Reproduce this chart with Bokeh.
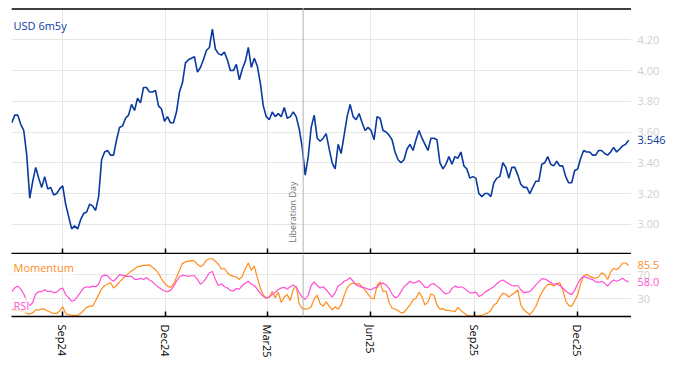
import pandas as pd
from bokeh.plotting import figure
from bokeh.layouts import column, row
from bokeh.models import (Range1d, MonthsTicker, DatetimeTickFormatter,
                          FixedTicker, Span, Label, ColumnDataSource)
from bokeh.core.properties import value
from bokeh.embed import file_html
from bokeh.resources import INLINE

# ---------------- data ----------------
series_name = "USD 6m5y"
data_start = "2024-07-17 18:00"
data_end = "2026-01-15 10:00"
view_start = "2024-07-17 12:00"
view_end = "2026-01-18 00:00"
liberation_day = "2025-04-02"
tick_months = [2, 5, 8, 11]          # Mar, Jun, Sep, Dec (0-based month index)
price_ticks = [3.0, 3.2, 3.4, 3.6, 3.8, 4.0, 4.2]
osc_ticks = [30, 70]

price = [
    3.66, 3.71, 3.71, 3.65, 3.61, 3.45, 3.17, 3.28, 3.37, 3.30,
    3.24, 3.31, 3.23, 3.24, 3.19, 3.20, 3.23, 3.25, 3.13, 3.05,
    2.97, 2.99, 2.97, 3.03, 3.07, 3.08, 3.13, 3.12, 3.09, 3.18,
    3.42, 3.47, 3.48, 3.45, 3.45, 3.55, 3.63, 3.64, 3.69, 3.71,
    3.78, 3.74, 3.82, 3.79, 3.89, 3.89, 3.86, 3.86, 3.87, 3.77,
    3.75, 3.67, 3.70, 3.66, 3.66, 3.73, 3.86, 3.92, 4.05, 4.07,
    4.08, 4.09, 3.99, 4.02, 4.07, 4.13, 4.15, 4.27, 4.14, 4.11,
    4.10, 4.12, 4.07, 4.00, 4.00, 4.04, 3.94, 4.01, 4.06, 4.15,
    4.02, 4.08, 4.03, 3.92, 3.77, 3.70, 3.68, 3.73, 3.70, 3.72,
    3.70, 3.76, 3.69, 3.70, 3.73, 3.70, 3.62, 3.50, 3.32, 3.44,
    3.63, 3.71, 3.56, 3.54, 3.56, 3.59, 3.49, 3.40, 3.36, 3.52,
    3.46, 3.58, 3.70, 3.78, 3.70, 3.68, 3.72, 3.66, 3.61, 3.63,
    3.61, 3.55, 3.70, 3.69, 3.61, 3.60, 3.58, 3.55, 3.47, 3.42,
    3.40, 3.42, 3.49, 3.52, 3.48, 3.55, 3.61, 3.56, 3.52, 3.48,
    3.56, 3.56, 3.55, 3.40, 3.36, 3.39, 3.44, 3.39, 3.44, 3.43,
    3.47, 3.38, 3.36, 3.30, 3.31, 3.30, 3.20, 3.18, 3.20, 3.20,
    3.18, 3.27, 3.30, 3.31, 3.40, 3.37, 3.30, 3.37, 3.37, 3.32,
    3.26, 3.24, 3.24, 3.20, 3.24, 3.28, 3.28, 3.39, 3.40, 3.44,
    3.39, 3.38, 3.41, 3.38, 3.38, 3.31, 3.27, 3.27, 3.35, 3.36,
    3.43, 3.48, 3.47, 3.47, 3.45, 3.45, 3.48, 3.48, 3.46, 3.45,
    3.47, 3.50, 3.47, 3.49, 3.51, 3.52, 3.546,
]

momentum = [
    13, 12, 11, 10, 9, 6, 5, 7, 12, 12,
    13, 13, 10, 8, 6, 6, 10, 17, 6, 4,
    3, 3, 3, 6, 11, 16, 18, 18, 27, 37,
    46, 52, 54, 57, 48, 52, 58, 63, 68, 72,
    76, 79, 83, 84, 85, 85, 86, 82, 78, 72,
    63, 56, 51, 49, 54, 65, 77, 88, 91, 92,
    93, 92, 87, 83, 86, 94, 96, 96, 92, 87,
    79, 80, 73, 69, 67, 66, 62, 67, 80, 89,
    77, 84, 65, 48, 36, 32, 33, 42, 32, 41,
    24, 33, 37, 27, 46, 51, 22, 14, 13, 14,
    17, 30, 36, 22, 18, 25, 18, 12, 17, 13,
    20, 35, 48, 54, 56, 54, 55, 50, 44, 38,
    31, 30, 52, 58, 42, 43, 24, 15, 13, 11,
    7, 8, 14, 20, 28, 31, 41, 33, 20, 25,
    38, 36, 20, 13, 14, 11, 11, 10, 9, 16,
    11, 7, 3, 2, 2, 2, 2, 3, 5, 7,
    11, 20, 23, 33, 39, 38, 33, 37, 40, 45,
    20, 12, 8, 4, 10, 17, 30, 40, 48, 54,
    54, 51, 54, 57, 45, 27, 19, 18, 27, 37,
    55, 68, 70, 67, 65, 64, 66, 73, 70, 62,
    74, 80, 78, 82, 89, 89, 85.5,
]

rsi = [
    42, 48, 51, 46, 38, 26, 19, 24, 38, 42,
    42, 45, 42, 43, 40, 41, 46, 48, 37, 32,
    26, 28, 34, 41, 48, 50, 49, 51, 50, 54,
    67, 69, 68, 62, 59, 64, 70, 69, 67, 67,
    67, 62, 62, 64, 62, 65, 61, 58, 53, 49,
    46, 43, 42, 44, 50, 59, 66, 69, 68, 67,
    68, 68, 62, 54, 58, 65, 73, 75, 62, 52,
    55, 50, 48, 44, 43, 47, 46, 52, 56, 59,
    54, 52, 46, 39, 34, 31, 33, 37, 41, 45,
    48, 49, 46, 50, 53, 49, 40, 33, 29, 36,
    52, 58, 52, 48, 50, 45, 39, 33, 40, 51,
    54, 59, 61, 65, 59, 53, 51, 49, 48, 46,
    45, 48, 49, 55, 56, 53, 47, 38, 32, 34,
    42, 50, 54, 59, 56, 57, 60, 55, 49, 49,
    54, 55, 51, 47, 42, 38, 40, 47, 51, 49,
    50, 48, 44, 40, 40, 41, 34, 36, 41, 44,
    47, 50, 55, 59, 61, 58, 55, 52, 51, 52,
    45, 40, 41, 42, 47, 53, 58, 63, 63, 60,
    57, 54, 55, 52, 48, 43, 39, 37, 44, 55,
    63, 67, 65, 63, 62, 58, 57, 59, 56, 51,
    57, 61, 59, 61, 64, 60, 58.0,
]

# ---------------- style ----------------
FONT = "Open Sans"
BLUE = "#0a39a0"
ORANGE = "#ff8c1a"
PINK = "#ff4fd2"
GRID = "#e6e6e6"
TICKGRAY = "#cfcfcf"
FRAME_W = 620
SIDE_W = 37
TOP_H = 246
Y_TOP = 4.41           # top of the price range
Y_RULE = 4.40          # level of the black top border rule

def dates_for(vals):
    return pd.date_range(pd.Timestamp(data_start), pd.Timestamp(data_end), periods=len(vals))


src_p = ColumnDataSource(dict(date=dates_for(price), v=price))
src_m = ColumnDataSource(dict(date=dates_for(momentum), v=momentum))
src_r = ColumnDataSource(dict(date=dates_for(rsi), v=rsi))

view_start_ms = pd.Timestamp(view_start).timestamp() * 1000.0
view_end_ms = pd.Timestamp(view_end).timestamp() * 1000.0
x_range = Range1d(view_start_ms, view_end_ms)
y_price = Range1d(2.81, Y_TOP)
y_osc = Range1d(1, 103)
lib_ms = pd.Timestamp(liberation_day).timestamp() * 1000.0

month_starts = pd.date_range(pd.Timestamp(view_start).normalize().replace(day=1),
                             pd.Timestamp(view_end), freq="MS")
tick_ms = [d.timestamp() * 1000.0 for d in month_starts if (d.month - 1) in tick_months]


def base_style(p):
    p.outline_line_color = None
    p.background_fill_color = "white"
    p.border_fill_color = "white"
    p.xgrid.ticker = MonthsTicker(months=tick_months)
    p.xgrid.grid_line_color = GRID
    p.ygrid.grid_line_color = GRID


def side_strip(y_rng, frame_h, top):
    s = figure(title=None, frame_width=SIDE_W, frame_height=frame_h,
               x_range=Range1d(0, 1), y_range=y_rng,
               x_axis_location=None, y_axis_location=None,
               output_backend="svg", toolbar_location=None,
               min_border_left=0, min_border_right=0, min_border_top=top, min_border_bottom=0)
    s.outline_line_color = None
    s.xgrid.visible = False
    s.ygrid.visible = False
    s.border_fill_color = "white"
    return s


def side_text(s, ys, texts, color):
    src = ColumnDataSource(dict(x=[0] * len(ys), y=ys, t=texts))
    s.text("x", "y", text="t", source=src, x_offset=6, text_color=color,
           text_font=value(FONT), text_font_size="11px",
           text_align="left", text_baseline="middle")


# ---------- top panel ----------
p1 = figure(title=None, x_axis_type="datetime", y_axis_location=None,
            frame_width=FRAME_W, frame_height=TOP_H,
            x_range=x_range, y_range=y_price,
            output_backend="svg", toolbar_location=None,
            min_border_left=11, min_border_right=0, min_border_top=7, min_border_bottom=1)
base_style(p1)
p1.ygrid.ticker = FixedTicker(ticks=price_ticks)
bx = p1.below[0]
bx.ticker = FixedTicker(ticks=[], minor_ticks=tick_ms)   # tick marks only, no labels
bx.axis_line_color = "black"
bx.axis_line_width = 1.5
bx.major_tick_out = 0
bx.major_tick_in = 0
bx.minor_tick_line_color = "black"
bx.minor_tick_line_width = 1.5
bx.minor_tick_in = 5
bx.minor_tick_out = 0

# black top border rule, drawn just inside the frame
p1.add_layout(Span(location=Y_RULE, dimension="width", line_color="black", line_width=1.5))

p1.add_layout(Span(location=lib_ms, dimension="height", line_color="#b4b4b4", line_width=1))
p1.line("date", "v", source=src_p, line_color=BLUE, line_width=1.6)

p1.add_layout(Label(x=2, y=TOP_H - 18, x_units="screen", y_units="screen", text=series_name,
                    text_color=BLUE, text_font=FONT, text_font_size="11px",
                    text_baseline="middle"))
p1.add_layout(Label(x=lib_ms, y=11, y_units="screen", x_offset=-4, angle=90, angle_units="deg",
                    text="Liberation Day", text_color="#707070", text_font=FONT,
                    text_font_size="9px", text_baseline="bottom", text_align="left"))

p1s = side_strip(y_price, TOP_H, 7)
side_text(p1s, price_ticks, [f"{t:.2f}" for t in price_ticks], TICKGRAY)
side_text(p1s, [price[-1]], [f"{price[-1]:.3f}"], BLUE)

# ---------- bottom panel ----------
p2 = figure(title=None, x_axis_type="datetime", y_axis_location=None,
            frame_width=FRAME_W, frame_height=62,
            x_range=x_range, y_range=y_osc,
            output_backend="svg", toolbar_location=None,
            min_border_left=11, min_border_right=0, min_border_top=0, min_border_bottom=0)
base_style(p2)
p2.ygrid.ticker = FixedTicker(ticks=osc_ticks)
xa = p2.below[0]
xa.ticker = MonthsTicker(months=tick_months)
xa.formatter = DatetimeTickFormatter(months="%b%y", days="%b%y", years="%b%y")
xa.major_label_orientation = "vertical"
xa.major_label_text_font = FONT
xa.major_label_text_font_size = "11px"
xa.major_label_text_color = "black"
xa.major_label_standoff = 8
xa.axis_line_color = "black"
xa.axis_line_width = 1.5
xa.major_tick_line_color = "black"
xa.major_tick_line_width = 1.5
xa.major_tick_in = 5
xa.major_tick_out = 0
xa.minor_tick_line_color = None
xa.minor_tick_out = 0

p2.add_layout(Span(location=lib_ms, dimension="height", line_color="#b4b4b4", line_width=1))
p2.line("date", "v", source=src_m, line_color=ORANGE, line_width=1.2)
p2.line("date", "v", source=src_r, line_color=PINK, line_width=1.2)

p2.add_layout(Label(x=2, y=49, x_units="screen", y_units="screen", text="Momentum",
                    text_color=ORANGE, text_font=FONT, text_font_size="11px",
                    text_baseline="middle", background_fill_color="white",
                    background_fill_alpha=0.7))
p2.add_layout(Label(x=2, y=11, x_units="screen", y_units="screen", text="RSI",
                    text_color=PINK, text_font=FONT, text_font_size="11px",
                    text_baseline="middle", background_fill_color="white",
                    background_fill_alpha=0.7))

p2s = side_strip(y_osc, 62, 0)
side_text(p2s, osc_ticks, [str(t) for t in osc_ticks], TICKGRAY)
side_text(p2s, [momentum[-1]], [f"{momentum[-1]:.1f}"], ORANGE)
side_text(p2s, [rsi[-1]], [f"{rsi[-1]:.1f}"], PINK)

layout = column(row(p1, p1s, spacing=0), row(p2, p2s, spacing=0), spacing=0)
open("out.html", "w").write(file_html(layout, INLINE))
